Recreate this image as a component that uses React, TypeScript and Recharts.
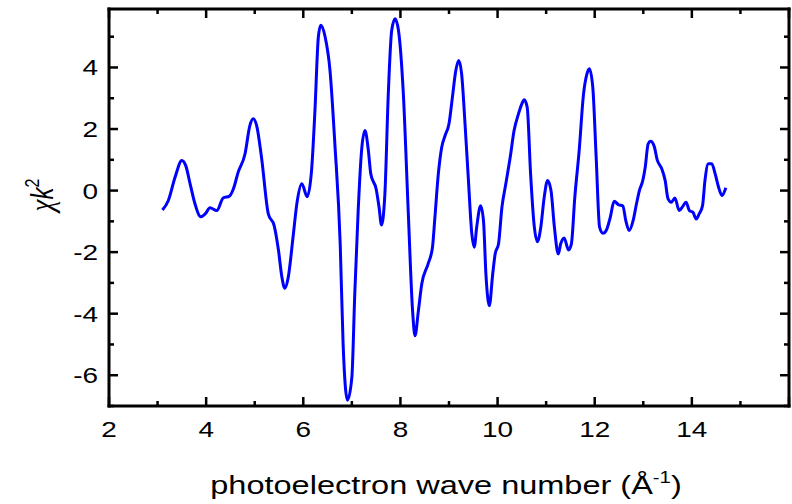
import { LineChart, Line, XAxis, YAxis, Label } from 'recharts'

// photoelectron wave number k (1/Å) and chi(k)*k^2
const kValues = [
  3.1, 3.22, 3.36, 3.5, 3.58, 3.67, 3.77, 3.89, 3.98, 4.08, 4.22, 4.35, 4.48, 4.56, 4.66, 4.8,
  4.9, 4.97, 5.04, 5.14, 5.28, 5.4, 5.49, 5.56, 5.62, 5.69, 5.79, 5.87, 5.97, 6.08, 6.17, 6.24,
  6.31, 6.36, 6.45, 6.55, 6.65, 6.76, 6.82, 6.91, 7.0, 7.06, 7.13, 7.2, 7.27, 7.34, 7.39, 7.5,
  7.56, 7.61, 7.68, 7.75, 7.82, 7.89, 7.96, 8.06, 8.16, 8.25, 8.3, 8.37, 8.44, 8.57, 8.66, 8.71,
  8.78, 8.85, 8.92, 9.0, 9.07, 9.14, 9.2, 9.26, 9.33, 9.4, 9.47, 9.52, 9.57, 9.65, 9.71, 9.76,
  9.83, 9.9, 9.95, 10.02, 10.09, 10.17, 10.26, 10.34, 10.43, 10.5, 10.55, 10.61, 10.68, 10.75,
  10.82, 10.89, 10.96, 11.03, 11.1, 11.17, 11.25, 11.3, 11.37, 11.46, 11.52, 11.59, 11.68, 11.77,
  11.84, 11.89, 11.96, 12.03, 12.1, 12.17, 12.25, 12.32, 12.4, 12.49, 12.58, 12.64, 12.71, 12.79,
  12.86, 12.92, 12.99, 13.04, 13.1, 13.15, 13.22, 13.29, 13.38, 13.45, 13.51, 13.58, 13.65, 13.74,
  13.81, 13.88, 13.95, 14.02, 14.09, 14.15, 14.22, 14.27, 14.34, 14.41, 14.48, 14.55, 14.62, 14.7,
]
const chiK2 = [
  -0.63, -0.33, 0.43, 0.98, 0.81, 0.22, -0.43, -0.85, -0.76, -0.56, -0.65, -0.24, -0.18, 0.05, 0.6, 1.19,
  2.11, 2.33, 2.11, 1.08, -0.76, -1.14, -1.95, -2.82, -3.17, -2.82, -1.5, -0.4, 0.22, -0.2, 0.65, 2.6,
  4.99, 5.37, 4.99, 3.9, 1.52, -1.73, -4.99, -6.81, -6.07, -3.36, -0.65, 1.3, 1.95, 1.3, 0.54, 0.05,
  -0.54, -1.12, -0.11, 3.14, 5.2, 5.58, 5.2, 3.14, -0.65, -3.9, -4.72, -3.9, -3.03, -2.38, -1.84, -0.87,
  0.54, 1.41, 1.79, 2.17, 3.03, 3.9, 4.23, 3.79, 2.17, 0.33, -1.41, -1.84, -1.19, -0.49, -0.98, -2.71,
  -3.74, -2.71, -2.06, -1.73, -0.54, 0.22, 1.08, 1.95, 2.49, 2.82, 2.95, 2.71, 0.54, -1.08,
  -1.66, -1.19, -0.22, 0.33, 0.0, -1.19, -2.06, -1.73, -1.54, -1.93, -1.73, -0.22, 1.3, 3.14,
  3.79, 3.96, 3.36, 1.08, -1.19, -1.39, -1.25, -0.87, -0.35, -0.46, -0.5, -0.98, -1.3, -0.98,
  -0.43, 0.0, 0.33, 0.76, 1.52, 1.6, 1.46, 0.98, 0.71, 0.33, -0.27, -0.38, -0.24, -0.65,
  -0.52, -0.38, -0.65, -0.7, -0.92, -0.76, -0.49, 0.33, 0.87, 0.87, 0.54, 0.11, -0.16, 0.09,
]

const xTicks = [2, 3, 4, 5, 6, 7, 8, 9, 10, 11, 12, 13, 14, 15, 16]
const xLabels = [2, 4, 6, 8, 10, 12, 14]
const yTicks = [-7, -6, -5, -4, -3, -2, -1, 0, 1, 2, 3, 4, 5]
const yLabels = [-6, -4, -2, 0, 2, 4]

const data = kValues.map((k, i) => ({ k, chi: chiK2[i] }))

const FONT = '"Liberation Sans", Arial, sans-serif'
const axisLine = { stroke: '#000', strokeWidth: 3, strokeLinecap: 'square' as const }
const MAJOR = 9
const MINOR = 5
// the reference text looks a bit stretched sideways
const STRETCH = 1.27

function BottomTick({ x, y, payload }: any) {
  const v = payload.value
  const major = v % 2 === 0
  return (
    <g>
      <line x1={x} x2={x} y1={y} y2={y - (major ? MAJOR : MINOR)} stroke="#000" strokeWidth={2.5} />
      {xLabels.includes(v) && (
        <text
          transform={`translate(${x}, ${y + 31}) scale(${STRETCH}, 1)`}
          textAnchor="middle"
          fontSize={22}
          fontFamily={FONT}
          fill="#000"
        >
          {v}
        </text>
      )}
    </g>
  )
}

function TopTick({ x, y, payload }: any) {
  const major = payload.value % 2 === 0
  return <line x1={x} x2={x} y1={y} y2={y + (major ? MAJOR : MINOR)} stroke="#000" strokeWidth={2.5} />
}

function LeftTick({ x, y, payload }: any) {
  const v = payload.value
  const major = v % 2 === 0
  return (
    <g>
      <line x1={x} x2={x + (major ? MAJOR : MINOR)} y1={y} y2={y} stroke="#000" strokeWidth={2.5} />
      {yLabels.includes(v) && (
        <text
          transform={`translate(${x - 11}, ${y}) scale(${STRETCH}, 1)`}
          dy="0.36em"
          textAnchor="end"
          fontSize={22}
          fontFamily={FONT}
          fill="#000"
        >
          {v}
        </text>
      )}
    </g>
  )
}

function RightTick({ x, y, payload }: any) {
  const major = payload.value % 2 === 0
  return <line x1={x} x2={x - (major ? MAJOR : MINOR)} y1={y} y2={y} stroke="#000" strokeWidth={2.5} />
}

function XTitle({ viewBox }: any) {
  const cx = viewBox.x + viewBox.width / 2 - 3
  return (
    <text
      transform={`translate(${cx}, 494) scale(${STRETCH}, 1)`}
      textAnchor="middle"
      fontSize={25.6}
      fontFamily={FONT}
      fill="#000"
    >
      photoelectron wave number (Å
      <tspan dy={-11} fontSize={16}>-1</tspan>
      <tspan dy={11}>)</tspan>
    </text>
  )
}

function YTitle() {
  const x = 53
  const y = 195
  return (
    <text
      transform={`translate(${x}, ${y}) rotate(-90) scale(1, ${STRETCH})`}
      textAnchor="middle"
      fontSize={24}
      fill="#000"
    >
      <tspan fontFamily='"Liberation Serif", serif' fontStyle="italic" fontSize={27}>χ</tspan>
      <tspan fontFamily={FONT} fontStyle="italic">k</tspan>
      <tspan fontFamily={FONT} dy={-11} fontSize={16}>2</tspan>
    </text>
  )
}

export default function App() {
  return (
    <div style={{ position: 'absolute', left: 0, top: 0, width: 792, height: 504, background: '#fff' }}>
      <LineChart width={792} height={504} data={data} margin={{ top: 8, right: 2, bottom: 0, left: 0 }}>
        <XAxis
          xAxisId="bottom"
          dataKey="k"
          type="number"
          domain={[2, 16]}
          ticks={xTicks}
          interval={0}
          allowDataOverflow
          height={98}
          tickSize={0}
          tickMargin={0}
          tickLine={false}
          axisLine={axisLine}
          tick={<BottomTick />}
        >
          <Label content={<XTitle />} />
        </XAxis>
        <XAxis
          xAxisId="top"
          orientation="top"
          dataKey="k"
          type="number"
          domain={[2, 16]}
          ticks={xTicks}
          interval={0}
          allowDataOverflow
          height={1}
          tickSize={0}
          tickMargin={0}
          tickLine={false}
          axisLine={axisLine}
          tick={<TopTick />}
        />
        <YAxis
          yAxisId="left"
          type="number"
          domain={[-7, 5.9]}
          ticks={yTicks}
          interval={0}
          allowDataOverflow
          width={109}
          tickSize={0}
          tickMargin={0}
          tickLine={false}
          axisLine={axisLine}
          tick={<LeftTick />}
        >
          <Label content={<YTitle />} />
        </YAxis>
        <YAxis
          yAxisId="right"
          orientation="right"
          type="number"
          domain={[-7, 5.9]}
          ticks={yTicks}
          interval={0}
          allowDataOverflow
          width={1}
          tickSize={0}
          tickMargin={0}
          tickLine={false}
          axisLine={axisLine}
          tick={<RightTick />}
        />
        {/* invisible twin so the mirrored top/right axes get drawn */}
        <Line
          xAxisId="top"
          yAxisId="right"
          dataKey="chi"
          stroke="none"
          strokeOpacity={0}
          dot={false}
          activeDot={false}
          legendType="none"
          isAnimationActive={false}
        />
        <Line
          xAxisId="bottom"
          yAxisId="left"
          dataKey="chi"
          type="monotone"
          stroke="#0000ff"
          strokeWidth={3}
          dot={false}
          isAnimationActive={false}
        />
      </LineChart>
    </div>
  )
}
